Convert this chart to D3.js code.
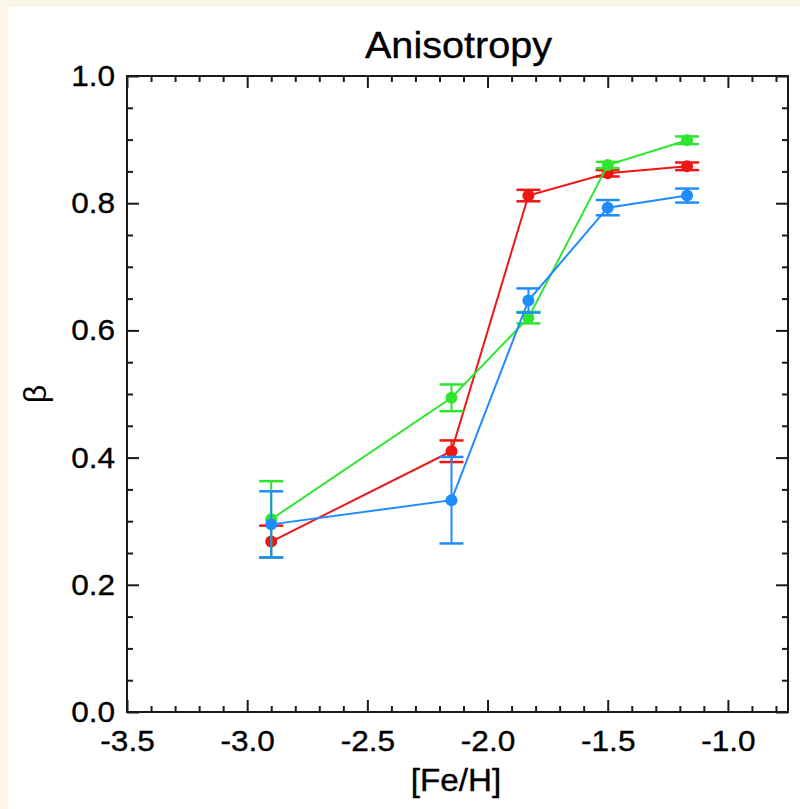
<!DOCTYPE html>
<html>
<head>
<meta charset="utf-8">
<script src="https://cdn.jsdelivr.net/npm/d3@7"></script>
<style>
  html, body { margin: 0; padding: 0; background: #fcf6e6; }
  svg { display: block; }
  text { font-family: "Liberation Sans", Arial, Helvetica, sans-serif; fill: #000; }
</style>
</head>
<body>
<svg id="chart" width="800" height="809"></svg>
<script>
// ---- data ----
const title = "Anisotropy";
const xLabel = "[Fe/H]";
const yLabel = "β";
const feh = [-2.90, -2.15, -1.83, -1.50, -1.17];
const redBeta   = [0.268, 0.410, 0.812, 0.847, 0.858];
const redErr    = [0.025, 0.017, 0.009, 0.005, 0.006];
const greenBeta = [0.303, 0.494, 0.620, 0.860, 0.899];
const greenErr  = [0.060, 0.021, 0.009, 0.005, 0.006];
const blueBeta  = [0.295, 0.333, 0.647, 0.793, 0.812];
const blueErr   = [0.052, 0.068, 0.019, 0.012, 0.011];
const xMajorTicks = [-3.5, -3.0, -2.5, -2.0, -1.5, -1.0];
const yMajorTicks = [0.0, 0.2, 0.4, 0.6, 0.8, 1.0];

const series = [
  { color: "#f01515", beta: redBeta, err: redErr },
  { color: "#2ee62e", beta: greenBeta, err: greenErr },
  { color: "#1e8cff", beta: blueBeta, err: blueErr }
];

// ---- layout ----
const svg = d3.select("#chart");
svg.append("rect").attr("x", 8).attr("y", 7).attr("width", 792).attr("height", 802).attr("fill", "#ffffff");

const L = 127, R = 788, T = 76, B = 712;
const x = d3.scaleLinear().domain([-3.5, -0.75]).range([L, R]);
const y = d3.scaleLinear().domain([0, 1]).range([B, T]);

const xMinor = d3.range(-34, -7).map(d => d / 10).filter(v => !xMajorTicks.some(m => Math.abs(m - v) < 1e-9));
const yMinor = d3.range(1, 20).map(d => d / 20).filter(v => !yMajorTicks.some(m => Math.abs(m - v) < 1e-9));

const axisColor = "#1a1a1a";
function styleAxis(g) {
  g.select(".domain").remove();
  g.selectAll(".tick line").attr("stroke", axisColor).attr("stroke-width", 2);
}

// minor ticks
svg.append("g").attr("transform", `translate(0,${B})`)
  .call(d3.axisBottom(x).tickValues(xMinor).tickSize(-6).tickFormat(""))
  .call(styleAxis);
svg.append("g").attr("transform", `translate(0,${T})`)
  .call(d3.axisTop(x).tickValues(xMinor).tickSize(-6).tickFormat(""))
  .call(styleAxis);
svg.append("g").attr("transform", `translate(${L},0)`)
  .call(d3.axisLeft(y).tickValues(yMinor).tickSize(-6).tickFormat(""))
  .call(styleAxis);
svg.append("g").attr("transform", `translate(${R},0)`)
  .call(d3.axisRight(y).tickValues(yMinor).tickSize(-6).tickFormat(""))
  .call(styleAxis);

// major ticks
const fmt = d3.format(".1f");
svg.append("g").attr("class", "lab").attr("transform", `translate(0,${B})`)
  .call(d3.axisBottom(x).tickValues(xMajorTicks).tickSize(-12).tickPadding(18).tickFormat(d => fmt(d).replace("−", "-")))
  .call(styleAxis);
svg.append("g").attr("transform", `translate(0,${T})`)
  .call(d3.axisTop(x).tickValues(xMajorTicks).tickSize(-12).tickFormat(""))
  .call(styleAxis);
svg.append("g").attr("class", "lab").attr("transform", `translate(${L},0)`)
  .call(d3.axisLeft(y).tickValues(yMajorTicks).tickSize(-12).tickPadding(12).tickFormat(fmt))
  .call(styleAxis);
svg.append("g").attr("transform", `translate(${R},0)`)
  .call(d3.axisRight(y).tickValues(yMajorTicks).tickSize(-12).tickFormat(""))
  .call(styleAxis);

svg.selectAll(".lab .tick text")
  .attr("font-family", "Liberation Sans, Arial, sans-serif")
  .attr("font-size", 29.5).attr("fill", "#000")
  .attr("stroke", "#000").attr("stroke-width", 0.35);

// frame
svg.append("rect").attr("x", L).attr("y", T).attr("width", R - L).attr("height", B - T)
  .attr("fill", "none").attr("stroke", axisColor).attr("stroke-width", 2);

// ---- series ----
const capHalf = 12;
series.forEach(s => {
  const pts = feh.map((f, i) => ({ f, b: s.beta[i], e: s.err[i] }));
  const g = svg.append("g");
  g.append("path").datum(pts)
    .attr("d", d3.line().x(d => x(d.f)).y(d => y(d.b)))
    .attr("fill", "none").attr("stroke", s.color).attr("stroke-width", 2);
  const eb = g.selectAll(".eb").data(pts).enter().append("g");
  eb.append("line").attr("x1", d => x(d.f)).attr("x2", d => x(d.f))
    .attr("y1", d => y(d.b - d.e)).attr("y2", d => y(d.b + d.e))
    .attr("stroke", s.color).attr("stroke-width", 2);
  eb.append("line").attr("x1", d => x(d.f) - capHalf).attr("x2", d => x(d.f) + capHalf)
    .attr("y1", d => y(d.b + d.e)).attr("y2", d => y(d.b + d.e))
    .attr("stroke", s.color).attr("stroke-width", 2.5);
  eb.append("line").attr("x1", d => x(d.f) - capHalf).attr("x2", d => x(d.f) + capHalf)
    .attr("y1", d => y(d.b - d.e)).attr("y2", d => y(d.b - d.e))
    .attr("stroke", s.color).attr("stroke-width", 2.5);
  g.selectAll("circle").data(pts).enter().append("circle")
    .attr("cx", d => x(d.f)).attr("cy", d => y(d.b)).attr("r", 6)
    .attr("fill", s.color);
});

// ---- titles ----
svg.append("text").attr("class", "stretch").attr("x", (L + R) / 2 + 1).attr("y", 58)
  .attr("text-anchor", "middle").attr("font-size", 37)
  .attr("stroke", "#000").attr("stroke-width", 0.35).text(title);
svg.append("text").attr("class", "stretch").attr("x", 456).attr("y", 791)
  .attr("text-anchor", "middle").attr("font-size", 31)
  .attr("stroke", "#000").attr("stroke-width", 0.35).text(xLabel);
svg.append("text").attr("transform", "translate(46,394) rotate(-90)")
  .attr("text-anchor", "middle").attr("font-size", 32).text(yLabel);

// horizontal stretch to mimic the wider Helvetica rendering
svg.selectAll(".stretch, .lab .tick text").each(function () {
  const len = this.getComputedTextLength();
  d3.select(this).attr("textLength", len * 1.07).attr("lengthAdjust", "spacingAndGlyphs");
});
</script>
</body>
</html>
